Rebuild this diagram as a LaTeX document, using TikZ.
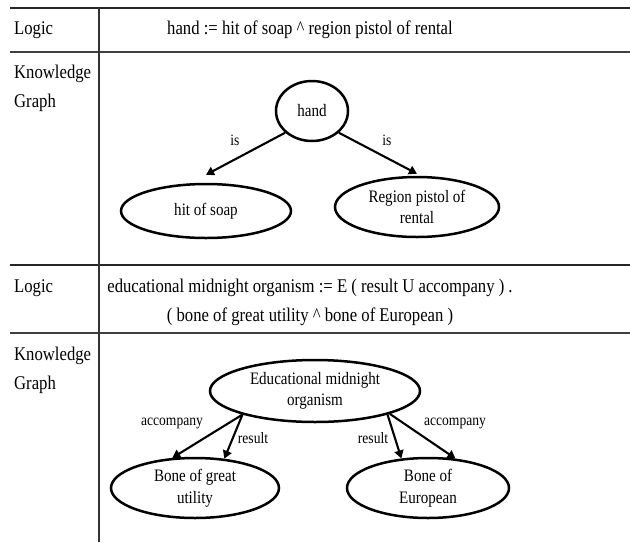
\documentclass[tikz,border=0pt]{standalone}
\usepackage{fontspec}
\setmainfont{Liberation Serif}[FakeStretch=0.86]
\usetikzlibrary{shapes.geometric,arrows.meta}
\tikzset{
  rulethick/.style={line width=2.6pt, draw=black!85},
  rulethin/.style={line width=1.6pt, draw=black!75},
  rulevert/.style={line width=1.3pt, draw=black!80},
  celltext/.style={inner sep=0pt, font=\fontsize{19.4}{29}\selectfont},
  kg/.style={ellipse, draw, line width=2.5pt, inner sep=0pt, align=center, font=\fontsize{17.5}{21.5}\selectfont},
  arr/.style={line width=2.1pt, -{Triangle[length=8pt,width=9pt]}},
  elabel/.style={inner sep=0pt, font=\fontsize{15.8}{17}\selectfont}
}
\begin{document}
\begin{tikzpicture}[x=1pt,y=-1pt]
\useasboundingbox (0,0) rectangle (630,542);
% table rules
\draw[rulethick] (10,8) -- (630,8);
\draw[rulethin] (10,52) -- (630,52);
\draw[rulethick] (10,265) -- (630,265);
\draw[rulethin] (10,333) -- (630,333);
\draw[rulevert] (99,8) -- (99,542);
% row labels
\node[celltext, anchor=west] (l1) at (14,30) {Logic};
\node[celltext, anchor=west, align=left] (k1) at (14,88.5) {Knowledge\\Graph};
\node[celltext, anchor=west] (l2) at (14,288) {Logic};
\node[celltext, anchor=west, align=left] (k2) at (14,370.5) {Knowledge\\Graph};
% logic formulas
\node[celltext] (f1) at (310,30) {hand := hit of soap \^{} region pistol of rental};
\node[celltext, align=center] (f2) at (310,302.5) {educational midnight organism := E ( result U accompany ) .\\( bone of great utility \^{} bone of European )};
% graph 1
\node[kg, minimum width=72pt, minimum height=60pt] (hand) at (312,111) {hand};
\node[kg, minimum width=170pt, minimum height=54pt] (soap) at (206,211) {hit of soap};
\node[kg, minimum width=164pt, minimum height=60pt] (region) at (417,207) {Region pistol of\\rental};
\draw[arr] (hand.219) -- ([yshift=8pt]soap.north);
\draw[arr] (hand.321) -- ([yshift=2pt]region.north);
\node[elabel] (is1) at (235,140) {is};
\node[elabel] (is2) at (387,140) {is};
% graph 2
\node[kg, minimum width=210pt, minimum height=62pt] (edu) at (315,391) {Educational midnight\\organism};
\node[kg, minimum width=168pt, minimum height=60pt] (great) at (195,488) {Bone of great\\utility};
\node[kg, minimum width=162pt, minimum height=60pt] (euro) at (428,488) {Bone of\\European};
\draw[arr] (edu.198) -- (great.127);
\draw[arr] (edu.198) -- (great.45);
\draw[arr] (edu.342) -- (euro.132);
\draw[arr] (edu.343) -- (euro.47);
\node[elabel] (acc1) at (172,423) {accompany};
\node[elabel] (res1) at (253,438) {result};
\node[elabel] (res2) at (373,438) {result};
\node[elabel] (acc2) at (455,423) {accompany};
\end{tikzpicture}
\end{document}
